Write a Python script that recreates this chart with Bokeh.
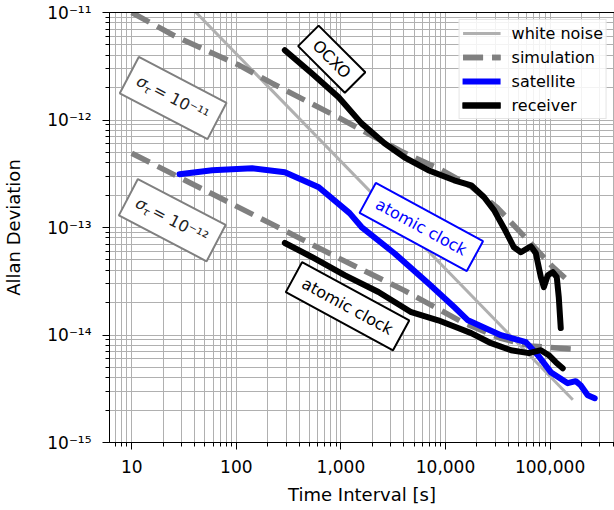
import math
from bokeh.plotting import figure
from bokeh.models import Range1d, LogAxis, FixedTicker, NumeralTickFormatter, CustomJSTickFormatter
from bokeh.embed import file_html
from bokeh.resources import INLINE
from bokeh.core.properties import value

FONT = "DejaVu Sans"

# ---------------- data ----------------
white_tau = [30, 165000]
white_adev = [1.375e-11, 2.5e-15]

sim_hi_tau = [10, 27, 106, 219, 451, 973, 3950, 9100, 17600, 31700, 65500, 106000, 154000]
sim_hi_adev = [1.0e-11, 5.9e-12, 3.24e-12, 2.2e-12, 1.53e-12, 1.04e-12, 5.0e-13, 3.45e-13,
               2.4e-13, 1.51e-13, 7.1e-14, 4.3e-14, 3.1e-14]

sim_lo_tau = [10, 55, 234, 950, 4030, 15070, 33900, 65500, 164000]
sim_lo_adev = [4.9e-13, 2.12e-13, 1.04e-13, 5.2e-14, 2.6e-14, 1.29e-14, 9.3e-15, 7.9e-15, 7.4e-15]

sat_tau = [28.6, 58.9, 141.6, 291, 614, 1211, 1574, 3246, 6840, 12100, 16400, 33900, 58800,
           76400, 101600, 147600, 175800, 196000, 229000, 267000]
sat_adev = [3.13e-13, 3.41e-13, 3.56e-13, 3.27e-13, 2.37e-13, 1.36e-13, 1.01e-13, 5.76e-14,
            3.03e-14, 1.82e-14, 1.37e-14, 9.96e-15, 8.57e-15, 6.49e-15, 4.51e-15, 3.56e-15,
            3.72e-15, 3.41e-15, 2.75e-15, 2.58e-15]

rx_ocxo_tau = [291, 526, 951, 1574, 2608, 4045, 6840, 12100, 17600, 23400, 29100, 36300, 45100,
               52600, 65500, 73100, 81600, 87200, 95100, 106100, 115900, 121100, 126500]
rx_ocxo_adev = [4.46e-12, 2.72e-12, 1.63e-12, 9.3e-13, 6.07e-13, 4.5e-13, 3.41e-13, 2.75e-13,
                2.47e-13, 1.91e-13, 1.45e-13, 9.85e-14, 6.55e-14, 5.89e-14, 6.69e-14, 5.75e-14,
                3.45e-14, 2.79e-14, 3.6e-14, 3.84e-14, 3.45e-14, 2.25e-14, 1.16e-14]

rx_atom_tau = [291, 526, 1084, 2285, 4710, 8510, 13200, 17600, 27300, 42300, 62700, 81600,
               97200, 113400, 132100]
rx_atom_adev = [7.18e-14, 5.32e-14, 3.61e-14, 2.51e-14, 1.63e-14, 1.37e-14, 1.16e-14, 1.04e-14,
                8.39e-15, 7.22e-15, 6.78e-15, 7.22e-15, 6.49e-15, 5.58e-15, 4.91e-15]

legend_labels = ["white noise", "simulation", "satellite", "receiver"]

# ---------------- figure ----------------
p = figure(width=614, height=510, x_axis_type="log", y_axis_type="log",
           x_range=Range1d(6.13, 4.13e5), y_range=Range1d(1e-15, 1e-11),
           output_backend="svg", toolbar_location=None,
           min_border_left=107, min_border_right=0, min_border_top=12, min_border_bottom=68,
           outline_line_color=None, background_fill_color="white", border_fill_color="white")

xax = p.below[0]
yax = p.left[0]

top_axis = LogAxis(ticker=FixedTicker(ticks=[]), major_tick_out=0, major_tick_in=0,
                   minor_tick_out=0, minor_tick_in=0, major_label_standoff=0,
                   axis_line_color="black", axis_line_width=1)
p.add_layout(top_axis, "above")

GRID = "#b0b0b0"
for g in (p.xgrid, p.ygrid):
    g.grid_line_color = GRID
    g.grid_line_width = 1
    g.minor_grid_line_color = GRID
    g.minor_grid_line_width = 1

for ax in (xax, yax):
    ax.axis_line_color = "black"
    ax.axis_line_width = 1
    ax.major_tick_line_color = "black"
    ax.minor_tick_line_color = "black"
    ax.major_tick_out = 7
    ax.major_tick_in = 0
    ax.minor_tick_out = 4
    ax.minor_tick_in = 0
    ax.major_label_text_font = FONT
    ax.major_label_text_font_size = "17px"
    ax.major_label_text_color = "black"
    ax.axis_label_text_font = FONT
    ax.axis_label_text_font_size = "18px"
    ax.axis_label_text_font_style = "normal"
    ax.axis_label_text_color = "black"

xax.axis_label = "Time Interval [s]"
xax.formatter = NumeralTickFormatter(format="0,0")
xax.major_label_standoff = 10
xax.axis_label_standoff = 8

yax.axis_label = "Allan Deviation"
yax.major_label_standoff = 11
yax.axis_label_standoff = 20
yax.formatter = CustomJSTickFormatter(code="""
const e = Math.round(Math.log10(tick));
const m = {'-':'\u207b','0':'\u2070','1':'\u00b9','2':'\u00b2','3':'\u00b3','4':'\u2074',
           '5':'\u2075','6':'\u2076','7':'\u2077','8':'\u2078','9':'\u2079'};
return '10' + String(e).split('').map(c => m[c]).join('');
""")

# ---------------- lines ----------------
p.line(white_tau, white_adev, line_color="#b0b0b0", line_width=3, legend_label=legend_labels[0])
p.line(sim_hi_tau, sim_hi_adev, line_color="#808080", line_width=5.5, line_dash="20 9",
       legend_label=legend_labels[1])
p.line(sim_lo_tau, sim_lo_adev, line_color="#808080", line_width=5.5, line_dash="20 9",
       legend_label=legend_labels[1])
p.line(sat_tau, sat_adev, line_color="#0000ff", line_width=6, line_join="round", line_cap="round",
       legend_label=legend_labels[2])
p.line(rx_ocxo_tau, rx_ocxo_adev, line_color="black", line_width=6, line_join="round",
       line_cap="round", legend_label=legend_labels[3])
p.line(rx_atom_tau, rx_atom_adev, line_color="black", line_width=6, line_join="round",
       line_cap="round", legend_label=legend_labels[3])

# ---------------- annotation boxes ----------------
boxes = [
    # tau, adev, w, h, angle, border, textcolor, text
    (817, 3.68e-12, 66, 29, -45.0, "black", "black", "OCXO"),
    (5870, 1.01e-13, 122, 34, -28.5, "#0000ff", "#0000ff", "atomic clock"),
    (1157, 1.85e-14, 122, 34, -28.5, "black", "black", "atomic clock"),
]
for tau, adev, w, h, ang, bc, tc, txt in boxes:
    p.rect(x=[tau], y=[adev], width=w, height=h, width_units="screen", height_units="screen",
           angle=ang, angle_units="deg", fill_color="white", line_color=bc, line_width=2)
    p.text(x=[tau], y=[adev], text=[txt], angle=ang, angle_units="deg", text_align="center",
           text_baseline="middle", text_font=value(FONT), text_font_size="16px", text_color=tc)

sigma_boxes = [(24.9, 1.60e-12, "= 10\u207b\u00b9\u00b9"), (24.4, 1.17e-13, "= 10\u207b\u00b9\u00b2")]
SANG = -27.6
th = math.radians(SANG)
def off(u, v):
    return (u * math.cos(th) + v * math.sin(th), -u * math.sin(th) + v * math.cos(th))

for tau, adev, rest in sigma_boxes:
    p.rect(x=[tau], y=[adev], width=99, height=41, width_units="screen", height_units="screen",
           angle=SANG, angle_units="deg", fill_color="white", line_color="#808080", line_width=2)
    pieces = [("\u03c3", -40, 0, "16px", "italic"),
              ("\u03c4", -30.5, 5, "11px", "italic"),
              (rest, -21, 0, "16px", "normal")]
    for t, u, v, fs, st in pieces:
        dx, dy = off(u, v)
        p.text(x=[tau], y=[adev], text=[t], angle=SANG, angle_units="deg", text_align="left",
               text_baseline="middle", x_offset=dx, y_offset=dy, text_font=value(FONT),
               text_font_size=fs, text_font_style=st, text_color="#222222")

# ---------------- legend ----------------
lg = p.legend[0]
lg.location = "top_right"
lg.margin = 7
lg.padding = 3
lg.spacing = 4
lg.label_text_font = FONT
lg.label_text_font_size = "16px"
lg.label_text_color = "black"
lg.label_height = 20
lg.glyph_height = 20
lg.glyph_width = 38
lg.label_standoff = 11
lg.border_line_color = "#cccccc"
lg.border_line_width = 1
lg.background_fill_color = "white"
lg.background_fill_alpha = 0.85

open("out.html", "w").write(file_html(p, INLINE))
